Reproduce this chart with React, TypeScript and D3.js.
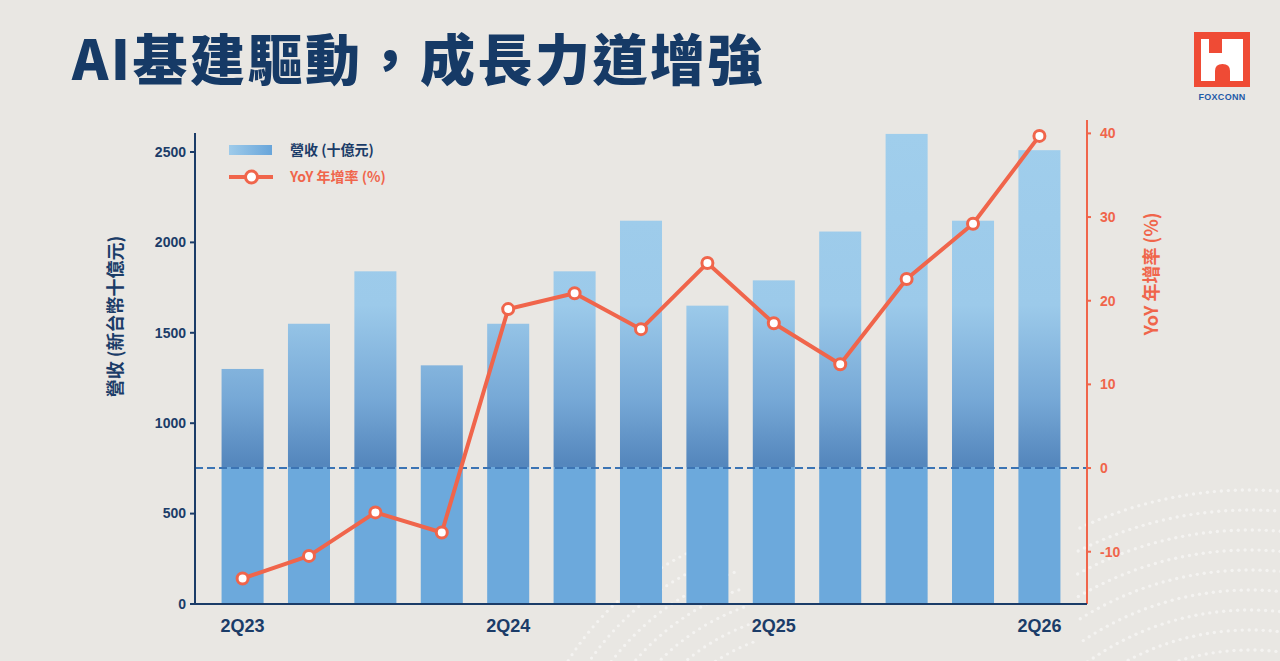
import * as d3 from 'd3';

const quarters = ['2Q23', '3Q23', '4Q23', '1Q24', '2Q24', '3Q24', '4Q24', '1Q25', '2Q25', '3Q25', '4Q25', '1Q26', '2Q26'];
const revenue = [1300, 1550, 1840, 1320, 1550, 1840, 2120, 1650, 1790, 2060, 2600, 2120, 2510];
const yoy = [-13.2, -10.5, -5.3, -7.7, 19.0, 20.9, 16.6, 24.5, 17.3, 12.4, 22.6, 29.2, 39.7];
const leftTicks = [0, 500, 1000, 1500, 2000, 2500];
const rightTicks = [-10, 0, 10, 20, 30, 40];
const shownQuarters = ['2Q23', '2Q24', '2Q25', '2Q26'];

const W = 1280;
const H = 661;
const plot = { left: 195, right: 1087, bottom: 604, topLeft: 133, topRight: 120 };

const NAVY = '#1b3c68';
const ORANGE = '#f0654b';
const CJK = '"Noto Sans CJK TC", "Noto Sans CJK SC", sans-serif';
const NUM = '"Liberation Sans", Arial, sans-serif';

function Logo() {
  return (
    <g>
      <rect x={1194} y={32} width={56} height={55} fill="#ef4b35" />
      <rect x={1201} y={39} width={42} height={42} fill="#ffffff" />
      <rect x={1209} y={38} width={13} height={15} fill="#ef4b35" />
      <path d="M1215,82 L1215,71 Q1215,64 1222.5,64 Q1230,64 1230,71 L1230,82 Z" fill="#ef4b35" />
      <text x={1222} y={100} textAnchor="middle" fontFamily={NUM} fontWeight={700} fontSize={9} fill="#1f5aa8" letterSpacing={0.3}>
        FOXCONN
      </text>
    </g>
  );
}

// faint dotted swirls in the background
function Dots() {
  const arcs = d3.range(0, 9).map((i) => ({ r: 240 + i * 20, a0: -2.25 + i * 0.03, a1: -1.05 }));
  const arcs2 = d3.range(0, 7).map((i) => ({ r: 190 + i * 18 }));
  return (
    <g fill="#ffffff" opacity={0.5}>
      {arcs.map((a, i) =>
        d3.range(a.a0, a.a1, 7 / a.r).map((t, j) => (
          <circle key={`a${i}-${j}`} cx={1250 + a.r * Math.cos(t)} cy={890 + a.r * Math.sin(t)} r={1.7} />
        ))
      )}
      {arcs2.map((a, i) =>
        d3.range(-3.0, -1.9, 7 / a.r).map((t, j) => (
          <circle key={`b${i}-${j}`} cx={820 + a.r * Math.cos(t)} cy={820 + a.r * Math.sin(t)} r={1.6} />
        ))
      )}
    </g>
  );
}

export default function App() {
  const x = d3.scaleBand<string>().domain(quarters).range([plot.left, plot.right]).paddingInner(0.367).paddingOuter(0.4);
  const yL = d3.scaleLinear().domain([0, 2605]).range([plot.bottom, plot.topLeft]);
  const yR = d3.scaleLinear().domain([-16.25, 41.6]).range([plot.bottom, plot.topRight]);

  const cx = (q: string) => (x(q) ?? 0) + x.bandwidth() / 2;
  const line = d3
    .line<number>()
    .x((_, i) => cx(quarters[i]))
    .y((d) => yR(d));

  const y0 = yR(0);
  const span = plot.bottom - plot.topLeft;
  const off = (y: number) => `${(((y - plot.topLeft) / span) * 100).toFixed(2)}%`;

  return (
    <div style={{ position: 'absolute', left: 0, top: 0, width: W, height: H }}>
      <svg width={W} height={H} viewBox={`0 0 ${W} ${H}`} style={{ display: 'block' }}>
        <defs>
          <linearGradient id="barGrad" gradientUnits="userSpaceOnUse" x1={0} y1={plot.topLeft} x2={0} y2={plot.bottom}>
            <stop offset="0%" stopColor="#a0ceec" />
            <stop offset={off(305)} stopColor="#9ccaea" />
            <stop offset={off(400)} stopColor="#76a8d6" />
            <stop offset={off(y0 - 5)} stopColor="#5587bd" />
            <stop offset={off(y0 - 1)} stopColor="#5587bd" />
            <stop offset={off(y0 - 1)} stopColor="#6ca9dc" />
            <stop offset="100%" stopColor="#6ca9dc" />
          </linearGradient>
          <linearGradient id="legGrad" x1="0" y1="0" x2="1" y2="0">
            <stop offset="0%" stopColor="#9ecbea" />
            <stop offset="100%" stopColor="#68a5da" />
          </linearGradient>
        </defs>

        <rect x={0} y={0} width={W} height={H} fill="#e9e7e3" />
        <Dots />

        {/* title */}
        <text x={72} y={80} fontFamily={CJK} fontWeight={900} fontSize={55} letterSpacing={2.5} fill="#163a66">
          AI基建驅動，成長力道增強
        </text>
        <Logo />

        {/* bars */}
        {revenue.map((v, i) => (
          <rect
            key={quarters[i]}
            x={x(quarters[i])}
            y={yL(v)}
            width={x.bandwidth()}
            height={plot.bottom - yL(v)}
            fill="url(#barGrad)"
          />
        ))}

        {/* zero line of YoY */}
        <line x1={plot.left} x2={plot.right} y1={y0} y2={y0} stroke="#3b74b4" strokeWidth={2} strokeDasharray="8,4" />

        {/* left axis */}
        <line x1={plot.left} x2={plot.left} y1={plot.topLeft} y2={plot.bottom} stroke={NAVY} strokeWidth={2} />
        {leftTicks.map((t) => (
          <g key={t}>
            <line x1={plot.left - 5} x2={plot.left} y1={yL(t)} y2={yL(t)} stroke={NAVY} strokeWidth={2} />
            <text x={plot.left - 9} y={yL(t)} dy="0.35em" textAnchor="end" fontFamily={NUM} fontWeight={700} fontSize={14} fill={NAVY}>
              {t}
            </text>
          </g>
        ))}
        <text
          transform={`translate(116,${(233 + 400) / 2}) rotate(-90)`}
          textAnchor="middle"
          dy="0.35em"
          fontFamily={CJK}
          fontWeight={700}
          fontSize={18}
          fill={NAVY}
        >
          營收 (新台幣十億元)
        </text>

        {/* right axis */}
        <line x1={plot.right} x2={plot.right} y1={plot.topRight} y2={plot.bottom} stroke={ORANGE} strokeWidth={2} />
        {rightTicks.map((t) => (
          <g key={t}>
            <line x1={plot.right} x2={plot.right + 4} y1={yR(t)} y2={yR(t)} stroke={ORANGE} strokeWidth={2} />
            <text x={plot.right + 13} y={yR(t)} dy="0.35em" fontFamily={NUM} fontWeight={700} fontSize={14} fill={ORANGE}>
              {t}
            </text>
          </g>
        ))}
        <text
          transform={`translate(1152,274) rotate(-90)`}
          textAnchor="middle"
          dy="0.35em"
          fontFamily={CJK}
          fontWeight={700}
          fontSize={18}
          fill={ORANGE}
        >
          YoY 年增率 (%)
        </text>

        {/* bottom axis */}
        <line x1={plot.left - 1} x2={plot.right} y1={plot.bottom} y2={plot.bottom} stroke={NAVY} strokeWidth={2} />
        {shownQuarters.map((q) => (
          <text key={q} x={cx(q)} y={626} dy="0.35em" textAnchor="middle" fontFamily={NUM} fontWeight={700} fontSize={18} fill={NAVY}>
            {q}
          </text>
        ))}

        {/* YoY line */}
        <path d={line(yoy) ?? ''} fill="none" stroke={ORANGE} strokeWidth={4} strokeLinejoin="round" />
        {yoy.map((v, i) => (
          <circle key={quarters[i]} cx={cx(quarters[i])} cy={yR(v)} r={5.5} fill="#ffffff" stroke={ORANGE} strokeWidth={3} />
        ))}

        {/* legend */}
        <rect x={229} y={145} width={43} height={10} fill="url(#legGrad)" />
        <text x={290} y={150} dy="0.35em" fontFamily={CJK} fontWeight={700} fontSize={14} fill={NAVY}>
          營收 (十億元)
        </text>
        <line x1={229} x2={273} y1={177} y2={177} stroke={ORANGE} strokeWidth={4} />
        <circle cx={251.5} cy={177} r={6} fill="#ffffff" stroke={ORANGE} strokeWidth={3} />
        <text x={290} y={177} dy="0.35em" fontFamily={CJK} fontWeight={700} fontSize={14} fill={ORANGE}>
          YoY 年增率 (%)
        </text>
      </svg>
    </div>
  );
}
